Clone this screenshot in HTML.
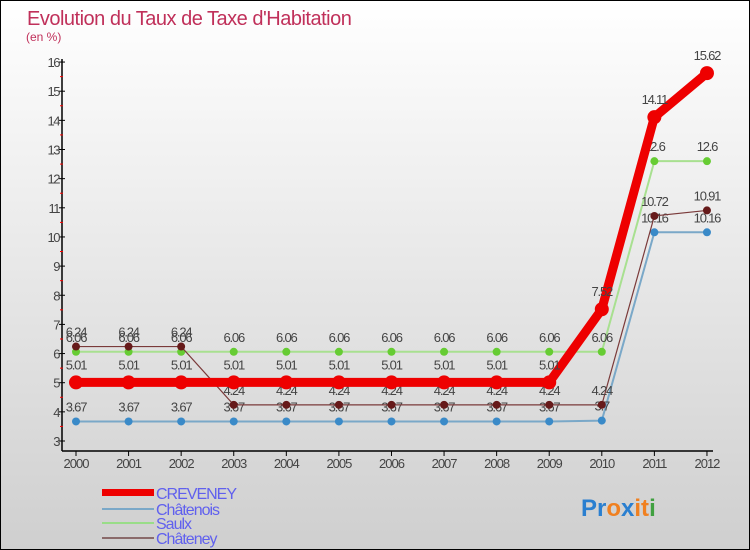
<!DOCTYPE html>
<html><head><meta charset="utf-8"><style>
body{margin:0}
#c{width:750px;height:550px;position:relative;box-sizing:border-box;border:1px solid #000;background:linear-gradient(#ffffff,#cfcfcf);font-family:"Liberation Sans",sans-serif;overflow:hidden}
</style></head><body>
<div id="c">
<svg width="748" height="548" id="svg" style="position:absolute;left:0;top:0">
<text x="26" y="24" font-size="20" fill="#c0305a" letter-spacing="-0.5">Evolution du Taux de Taxe d'Habitation</text>
<text x="25" y="40" font-size="12" fill="#c0305a">(en %)</text>
<g id="axes"></g><g id="series"></g>
<g>
<rect x="101" y="488" width="52" height="7" fill="#e00"/>
<text x="155" y="498" font-size="16" fill="#6060ee" letter-spacing="-1">CREVENEY</text>
<line x1="101" y1="508" x2="153" y2="508" stroke="#7aa8c8" stroke-width="2"/>
<text x="155" y="514" font-size="16" fill="#6060ee" letter-spacing="-1">Châtenois</text>
<line x1="101" y1="522" x2="153" y2="522" stroke="#99dd88" stroke-width="2"/>
<text x="155" y="528" font-size="16" fill="#6060ee" letter-spacing="-1">Saulx</text>
<line x1="101" y1="537" x2="153" y2="537" stroke="#8a6a6a" stroke-width="2"/>
<text x="155" y="543" font-size="16" fill="#6060ee" letter-spacing="-1">Châteney</text>
</g>
<text x="580" y="515" font-size="24" font-weight="bold"><tspan fill="#2a7fd0">Pr</tspan><tspan fill="#f08020">o</tspan><tspan fill="#2a7fd0">x</tspan><tspan fill="#f08020">it</tspan><tspan fill="#40a040">i</tspan></text>
</svg>
</div>
<script>
const years=[2000,2001,2002,2003,2004,2005,2006,2007,2008,2009,2010,2011,2012];
const creveney=[5.01,5.01,5.01,5.01,5.01,5.01,5.01,5.01,5.01,5.01,7.52,14.11,15.62];
const chatenois=[3.67,3.67,3.67,3.67,3.67,3.67,3.67,3.67,3.67,3.67,3.7,10.16,10.16];
const saulx=[6.06,6.06,6.06,6.06,6.06,6.06,6.06,6.06,6.06,6.06,6.06,12.6,12.6];
const chateney=[6.24,6.24,6.24,4.24,4.24,4.24,4.24,4.24,4.24,4.24,4.24,10.72,10.91];
const yTicks=[3,4,5,6,7,8,9,10,11,12,13,14,15,16];
const NS="http://www.w3.org/2000/svg";
const X=i=>75+i*52.58, Y=v=>440-(v-3)*29.15;
function mk(t,a,p){const e=document.createElementNS(NS,t);for(const k in a)e.setAttribute(k,a[k]);p.appendChild(e);return e;}
const ax=document.getElementById('axes');
mk('line',{x1:61,y1:58,x2:61,y2:450,stroke:'#000','stroke-width':1.5},ax);
mk('line',{x1:61,y1:450,x2:712,y2:450,stroke:'#000','stroke-width':1.5},ax);
yTicks.forEach(v=>{
 mk('line',{x1:58,y1:Y(v),x2:64,y2:Y(v),stroke:'#000'},ax);
 if(v<16){mk('line',{x1:59,y1:Y(v+0.5),x2:62,y2:Y(v+0.5),stroke:'#f00'},ax);}
 const t=mk('text',{x:58,y:Y(v)+5,'font-size':13,fill:'#444','text-anchor':'end','letter-spacing':'-1.5'},ax);
 
 
 t.textContent=v;
});
years.forEach((y,i)=>{
 mk('line',{x1:X(i),y1:450,x2:X(i),y2:455,stroke:'#000'},ax);
 const t=mk('text',{x:X(i),y:467,'font-size':13,fill:'#444','text-anchor':'middle','letter-spacing':'-1'},ax);
 
 
 t.textContent=y;
});
const sg=document.getElementById('series');
function series(name,vals,color,w,r,dot){
 const g=mk('g',{},sg);
 
 
 mk('polyline',{points:vals.map((v,i)=>X(i)+','+Y(v)).join(' '),fill:'none',stroke:color,'stroke-width':w},g);
 vals.forEach((v,i)=>{
  const c=mk('circle',{cx:X(i),cy:Y(v),r:r,fill:dot},g);
  
  
  const t=mk('text',{x:X(i),y:Y(v)-(r+6),'font-size':13,fill:'#444','text-anchor':'middle','letter-spacing':'-1.2'},g);
  
  
  t.textContent=v;
 });
}
series('chatenois',chatenois,'#7aa8c8',2,4,'#3a8ac8');
series('saulx',saulx,'#a8e090',2,4,'#66cc33');
series('chateney',chateney,'#7a3a3a',1.2,4,'#661a1a');
series('creveney',creveney,'#ee0000',9,7,'#ee0000');
</script>
</body></html>
